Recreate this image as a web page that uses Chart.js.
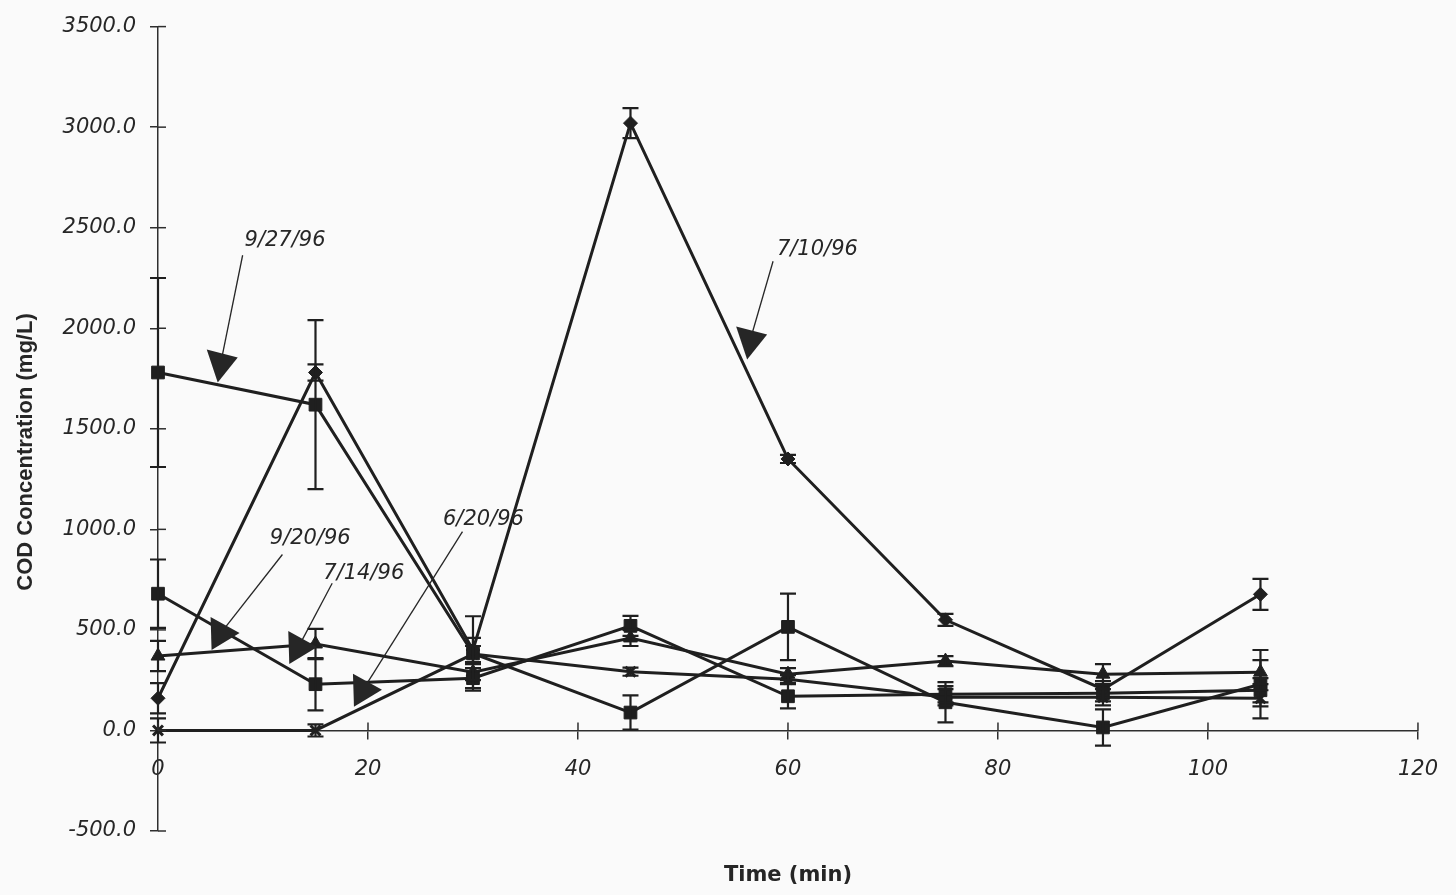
<!DOCTYPE html>
<html><head><meta charset="utf-8">
<script src="https://cdn.jsdelivr.net/npm/chart.js@4/dist/chart.umd.min.js"></script>
<style>html,body{margin:0;padding:0;background:#fafafa;} #wrap{width:1456px;height:895px;position:relative}</style>
</head><body><div id="wrap"><canvas id="c" width="1456" height="895"></canvas></div>
<script>
// ---- data ----
const times = [0, 15, 30, 45, 60, 75, 90, 105];
const labels = ['7/10/96', '9/27/96', '9/20/96', '7/14/96', '6/20/96'];
const cod_0710 = [160, 1780, 400, 3020, 1350, 550, 205, 677];
const err_0710 = [75, 40, 60, 75, 20, 30, 40, 77];
const cod_0927 = [1780, 1620, 383, 89, 515, 140, 15, 230];
const err_0927 = [470, 420, 185, 85, 165, 100, 90, 170];
const cod_0920 = [680, 230, 260, 520, 170, 180, 185, 200];
const err_0920 = [170, 130, 50, 50, 60, 40, 40, 60];
const cod_0714 = [370, 430, 290, 460, 280, 345, 280, 290];
const err_0714 = [75, 75, 40, 40, 30, 25, 50, 60];
const cod_0620 = [0, 0, 380, 292, 255, 165, 165, 160];
const err_0620 = [60, 30, 40, 20, 20, 40, 40, 40];
const yMin = -500, yMax = 3500, yStep = 500;
const xMin = 0, xMax = 120, xStep = 20;
// annotation callouts: label centre, line start, arrow tip (data units)
const notes = [
  {text: '9/27/96', label: [12.1, 2437], from: [8.06, 2363], tip: [5.69, 1730], dir: 'down'},
  {text: '7/10/96', label: [62.8, 2392], from: [58.58, 2333], tip: [56.11, 1844], dir: 'down'},
  {text: '9/20/96', label: [14.5, 954], from: [11.85, 875], tip: [7.77, 484], dir: 'right'},
  {text: '7/14/96', label: [19.6, 781], from: [16.59, 732], tip: [15.17, 415], dir: 'right'},
  {text: '6/20/96', label: [31.0, 1048], from: [29.0, 989], tip: [21.33, 203], dir: 'right'}
];

const INK = '#1f1f1f';
const toXY = arr => arr.map((v, i) => ({x: times[i], y: v}));
function ds(label, data, errors, style, radius) {
  return {
    label, data: toXY(data), errors,
    borderColor: INK, backgroundColor: INK, borderWidth: 3,
    pointStyle: style, pointRadius: radius, pointBorderColor: INK,
    pointBackgroundColor: INK, pointBorderWidth: style === 'crossRot' ? 3 : 1,
    tension: 0, clip: false
  };
}

const extras = {
  id: 'extras',
  afterDatasetsDraw(chart) {
    const {ctx, scales: {x, y}} = chart;
    ctx.save();
    ctx.strokeStyle = INK; ctx.lineWidth = 2.2;
    chart.data.datasets.forEach(d => {
      d.data.forEach((p, i) => {
        const e = d.errors[i]; if (!e) return;
        const px = x.getPixelForValue(p.x);
        const t = y.getPixelForValue(p.y + e), b = y.getPixelForValue(p.y - e);
        ctx.beginPath();
        ctx.moveTo(px, t); ctx.lineTo(px, b);
        ctx.moveTo(px - 8, t); ctx.lineTo(px + 8, t);
        ctx.moveTo(px - 8, b); ctx.lineTo(px + 8, b);
        ctx.stroke();
      });
    });
    ctx.restore();
  },
  afterDraw(chart) {
    const {ctx, scales: {x, y}} = chart;
    ctx.save();
    // inner halves of crossing tick marks
    ctx.strokeStyle = '#2e2e2e'; ctx.lineWidth = 1.5;
    const ax = x.getPixelForValue(xMin), ay = y.getPixelForValue(0);
    y.ticks.forEach(t => {
      const py = y.getPixelForValue(t.value);
      ctx.beginPath(); ctx.moveTo(ax, py); ctx.lineTo(ax + 8, py); ctx.stroke();
    });
    x.ticks.forEach(t => {
      const px = x.getPixelForValue(t.value);
      ctx.beginPath(); ctx.moveTo(px, ay); ctx.lineTo(px, ay - 8); ctx.stroke();
    });
    // callouts
    ctx.fillStyle = '#262626'; ctx.strokeStyle = '#262626';
    ctx.font = 'italic 21px "DejaVu Sans"';
    ctx.textAlign = 'center'; ctx.textBaseline = 'middle';
    notes.forEach(n => {
      const lx = x.getPixelForValue(n.label[0]), ly = y.getPixelForValue(n.label[1]);
      const fx = x.getPixelForValue(n.from[0]), fy = y.getPixelForValue(n.from[1]);
      const tx = x.getPixelForValue(n.tip[0]), ty = y.getPixelForValue(n.tip[1]);
      ctx.fillText(n.text, lx, ly);
      let pts;
      if (n.dir === 'down') {
        pts = [[tx, ty], [tx - 11, ty - 33], [tx + 20, ty - 25]];
      } else {
        pts = [[tx, ty], [tx - 29, ty - 16], [tx - 28, ty + 17]];
      }
      const cx = (pts[0][0] + pts[1][0] + pts[2][0]) / 3;
      const cy = (pts[0][1] + pts[1][1] + pts[2][1]) / 3;
      ctx.lineWidth = 1.3;
      ctx.beginPath(); ctx.moveTo(fx, fy); ctx.lineTo(cx, cy); ctx.stroke();
      ctx.beginPath(); ctx.moveTo(pts[0][0], pts[0][1]);
      ctx.lineTo(pts[1][0], pts[1][1]); ctx.lineTo(pts[2][0], pts[2][1]);
      ctx.closePath(); ctx.fill();
    });
    // axis titles
    ctx.fillStyle = '#262626';
    ctx.font = 'bold 21px "DejaVu Sans"';
    ctx.fillText('Time (min)', (x.left + x.right) / 2, 876);
    ctx.translate(26, 452); ctx.rotate(-Math.PI / 2);
    ctx.font = 'bold 22px "Liberation Sans"';
    ctx.fillText('COD Concentration (mg/L)', 0, 0);
    ctx.restore();
  }
};

new Chart(document.getElementById('c'), {
  type: 'line',
  data: {
    datasets: [
      ds(labels[0], cod_0710, err_0710, 'rectRot', 7),
      ds(labels[1], cod_0927, err_0927, 'rect', 9),
      ds(labels[2], cod_0920, err_0920, 'rect', 9),
      ds(labels[3], cod_0714, err_0714, 'triangle', 8),
      ds(labels[4], cod_0620, err_0620, 'crossRot', 7)
    ]
  },
  options: {
    responsive: false, animation: false,
    layout: {padding: {left: 10, top: 22, right: 32, bottom: 64}},
    plugins: {legend: {display: false}, tooltip: {enabled: false}},
    scales: {
      x: {
        type: 'linear', min: xMin, max: xMax, position: {y: 0},
        afterFit: s => { s.height = 0; },
        ticks: {stepSize: xStep, color: '#262626', padding: 18,
          font: {family: 'DejaVu Sans', style: 'italic', size: 21}},
        grid: {drawOnChartArea: false, tickLength: 8, color: '#2e2e2e', lineWidth: 1.5},
        border: {color: '#2e2e2e', width: 1.5}
      },
      y: {
        min: yMin, max: yMax,
        afterFit: s => { s.width = 148; },
        ticks: {stepSize: yStep, color: '#262626', padding: 14,
          callback: v => Number(v).toFixed(1),
          font: {family: 'DejaVu Sans', style: 'italic', size: 21}},
        grid: {drawOnChartArea: false, tickLength: 8, color: '#2e2e2e', lineWidth: 1.5},
        border: {color: '#2e2e2e', width: 1.5}
      }
    }
  },
  plugins: [extras]
});
</script></body></html>
